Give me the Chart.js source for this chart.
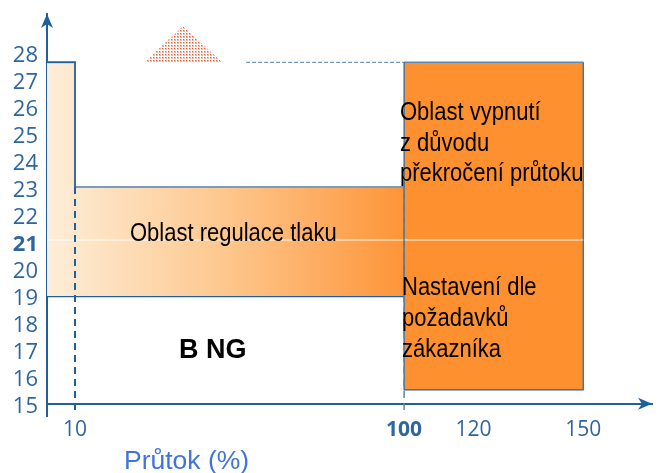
<!DOCTYPE html>
<html>
<head>
<meta charset="utf-8">
<title>Průtok</title>
<script src="https://cdn.jsdelivr.net/npm/chart.js@4"></script>
<style>
  body { margin: 0; background: #fff; }
  canvas { display: block; }
</style>
</head>
<body>
<canvas id="myChart" width="661" height="473"></canvas>
<script>
// values; the x axis is drawn schematic so 120 and 150 sit a bit left of true
const xTicks = [10, 100, 119, 149];
const xLabels = ["10", "100", "120", "150"];
const yTicks = [15, 16, 17, 18, 19, 20, 21, 22, 23, 24, 25, 26, 27, 28];
const xMin = 2.34;
const xMax = 167.8;
const yMin = 14.55;
const yMax = 29.44;

const regulationX = [xMin, 10, 10, 100];
const regulationY = [27.65, 27.65, 23.03, 23.03];
const regulationBase = 18.97;
const shutdownX = [100, 149];
const shutdownTop = [27.65, 27.65];
const shutdownBase = 15.52;
const triangleX = [29.1, 39.5, 50.2];
const triangleY = [27.65, 29, 27.65];
const topDashX = [56.8, 100];
const topDashY = [27.65, 27.65];
const nominalY = 21.07;

const axisBlue = "#1f5f9e";
const labelBlue = "#2f669f";

function pts(xs, ys) {
  return xs.map(function (x, i) { return { x: x, y: ys[i] }; });
}

function lineSet(data, extra) {
  return Object.assign({
    type: "line", data: data, pointRadius: 0, tension: 0, borderWidth: 1,
    borderColor: axisBlue, backgroundColor: "transparent", fill: false
  }, extra);
}

function regulationGradient(context) {
  const area = context.chart.chartArea;
  if (!area) return "#ffc080";
  const xs = context.chart.scales.x;
  const g = context.chart.ctx.createLinearGradient(area.left, 0, xs.getPixelForValue(100), 0);
  g.addColorStop(0, "#fdeed9");
  g.addColorStop(0.5, "#fdc78d");
  g.addColorStop(1, "#fe9438");
  return g;
}

function dotPattern() {
  const c = document.createElement("canvas");
  c.width = 3;
  c.height = 3;
  const p = c.getContext("2d");
  p.fillStyle = "#f2b8a4";
  p.fillRect(0, 0, 2, 2);
  p.fillStyle = "#e2603a";
  p.fillRect(0, 0, 1, 1);
  return p.canvas;
}

// the labels in the picture are narrower than plain Arial at this height
function narrowText(ctx, text, x, y) {
  ctx.save();
  ctx.translate(x, y);
  ctx.scale(0.88, 1);
  ctx.fillText(text, 0, 0);
  ctx.restore();
}

const textPlugin = {
  id: "texts",
  afterDatasetsDraw: function (chart) {
    const ctx = chart.ctx;
    const a = chart.chartArea;
    ctx.save();
    ctx.fillStyle = "#000";
    ctx.textAlign = "left";
    ctx.textBaseline = "alphabetic";
    ctx.font = "25px 'Liberation Sans'";
    narrowText(ctx, "Oblast regulace tlaku", 130, 241);
    narrowText(ctx, "Oblast vypnutí", 400, 120);
    narrowText(ctx, "z důvodu", 400, 151);
    narrowText(ctx, "překročení průtoku", 400, 181);
    narrowText(ctx, "Nastavení dle", 402, 295);
    narrowText(ctx, "požadavků", 402, 326);
    narrowText(ctx, "zákazníka", 402, 357);
    ctx.font = "bold 27px 'Liberation Sans'";
    ctx.fillText("B NG", 179, 358);
    ctx.font = "26.5px 'Liberation Sans'";
    ctx.fillStyle = "#3f74e0";
    ctx.fillText("Průtok (%)", 124, 469);

    // arrow heads
    const y15 = chart.scales.y.getPixelForValue(15);
    ctx.fillStyle = axisBlue;
    ctx.beginPath();
    ctx.moveTo(a.left, a.top);
    ctx.lineTo(a.left + 6, a.top + 14);
    ctx.lineTo(a.left, a.top + 10);
    ctx.lineTo(a.left - 6, a.top + 14);
    ctx.closePath();
    ctx.fill();
    ctx.beginPath();
    ctx.moveTo(a.right, y15);
    ctx.lineTo(a.right - 14, y15 + 6);
    ctx.lineTo(a.right - 10, y15);
    ctx.lineTo(a.right - 14, y15 - 6);
    ctx.closePath();
    ctx.fill();
    ctx.restore();
  }
};

new Chart(document.getElementById("myChart"), {
  data: {
    // first dataset ends up on top
    datasets: [
      lineSet(pts([100, 100], [23.03, 14.6]), { borderDash: [7, 5], borderWidth: 1.5, borderColor: "#65809b" }),
      lineSet(pts([10, 10], [23.03, 14.6]), { borderDash: [7, 5], borderWidth: 2 }),
      lineSet(pts([xMin, shutdownX[1]], [nominalY, nominalY]), { borderColor: "#ffffff" }),
      lineSet(pts(topDashX, topDashY), { borderDash: [4, 2], borderColor: "#4d80b5" }),
      lineSet(pts(triangleX, triangleY), {
        borderWidth: 0,
        backgroundColor: function (context) {
          return context.chart.ctx.createPattern(dotPattern(), "repeat");
        },
        fill: { value: 27.65 }
      }),
      lineSet(pts([xMin, 100], [regulationBase, regulationBase]), { borderWidth: 1.2 }),
      lineSet(pts([shutdownX[1], shutdownX[1], shutdownX[0], shutdownX[0]], [shutdownTop[1], shutdownBase, shutdownBase, shutdownTop[0]]), {
        borderWidth: 1.2
      }),
      lineSet(pts(shutdownX, shutdownTop), {
        borderColor: "#5f8ab5", borderWidth: 1.5,
        backgroundColor: "#fe9030", fill: { value: shutdownBase }
      }),
      lineSet(pts(regulationX.slice(0, 3), regulationY.slice(0, 3)), { borderWidth: 1.5 }),
      lineSet(pts(regulationX, regulationY), {
        borderColor: "#7b9cc0", borderWidth: 2,
        backgroundColor: regulationGradient, fill: { value: regulationBase }
      })
    ]
  },
  options: {
    responsive: false,
    animation: false,
    layout: { padding: { left: 0, right: 9, top: 14, bottom: 57 } },
    plugins: { legend: { display: false }, tooltip: { enabled: false } },
    scales: {
      x: {
        type: "linear",
        position: { y: 15 },
        min: xMin,
        max: xMax,
        grid: { display: false, tickLength: 6, tickColor: axisBlue, drawTicks: true },
        border: { color: axisBlue, width: 2 },
        afterBuildTicks: function (scale) {
          scale.ticks = xTicks.map(function (v) { return { value: v }; });
        },
        ticks: {
          autoSkip: false,
          maxRotation: 0,
          padding: 8,
          color: labelBlue,
          font: function (c) {
            return { family: "'Open Sans'", size: 21, weight: c.tick && c.tick.value === 100 ? "bold" : "normal" };
          },
          callback: function (v) { return xLabels[xTicks.indexOf(v)]; }
        }
      },
      y: {
        type: "linear",
        min: yMin,
        max: yMax,
        grid: { display: false, tickLength: 5, tickColor: axisBlue },
        border: { color: axisBlue, width: 2 },
        afterBuildTicks: function (scale) {
          scale.ticks = yTicks.map(function (v) { return { value: v }; });
        },
        afterFit: function (scale) {
          scale.width = 47;
          scale.paddingTop = 0;
          scale.paddingBottom = 0;
        },
        ticks: {
          autoSkip: false,
          padding: 4,
          labelOffset: 3,
          color: labelBlue,
          font: function (c) {
            return { family: "'Open Sans'", size: 22, weight: c.tick && c.tick.value === 21 ? "bold" : "normal" };
          }
        }
      }
    }
  },
  plugins: [textPlugin]
});
</script>
</body>
</html>
